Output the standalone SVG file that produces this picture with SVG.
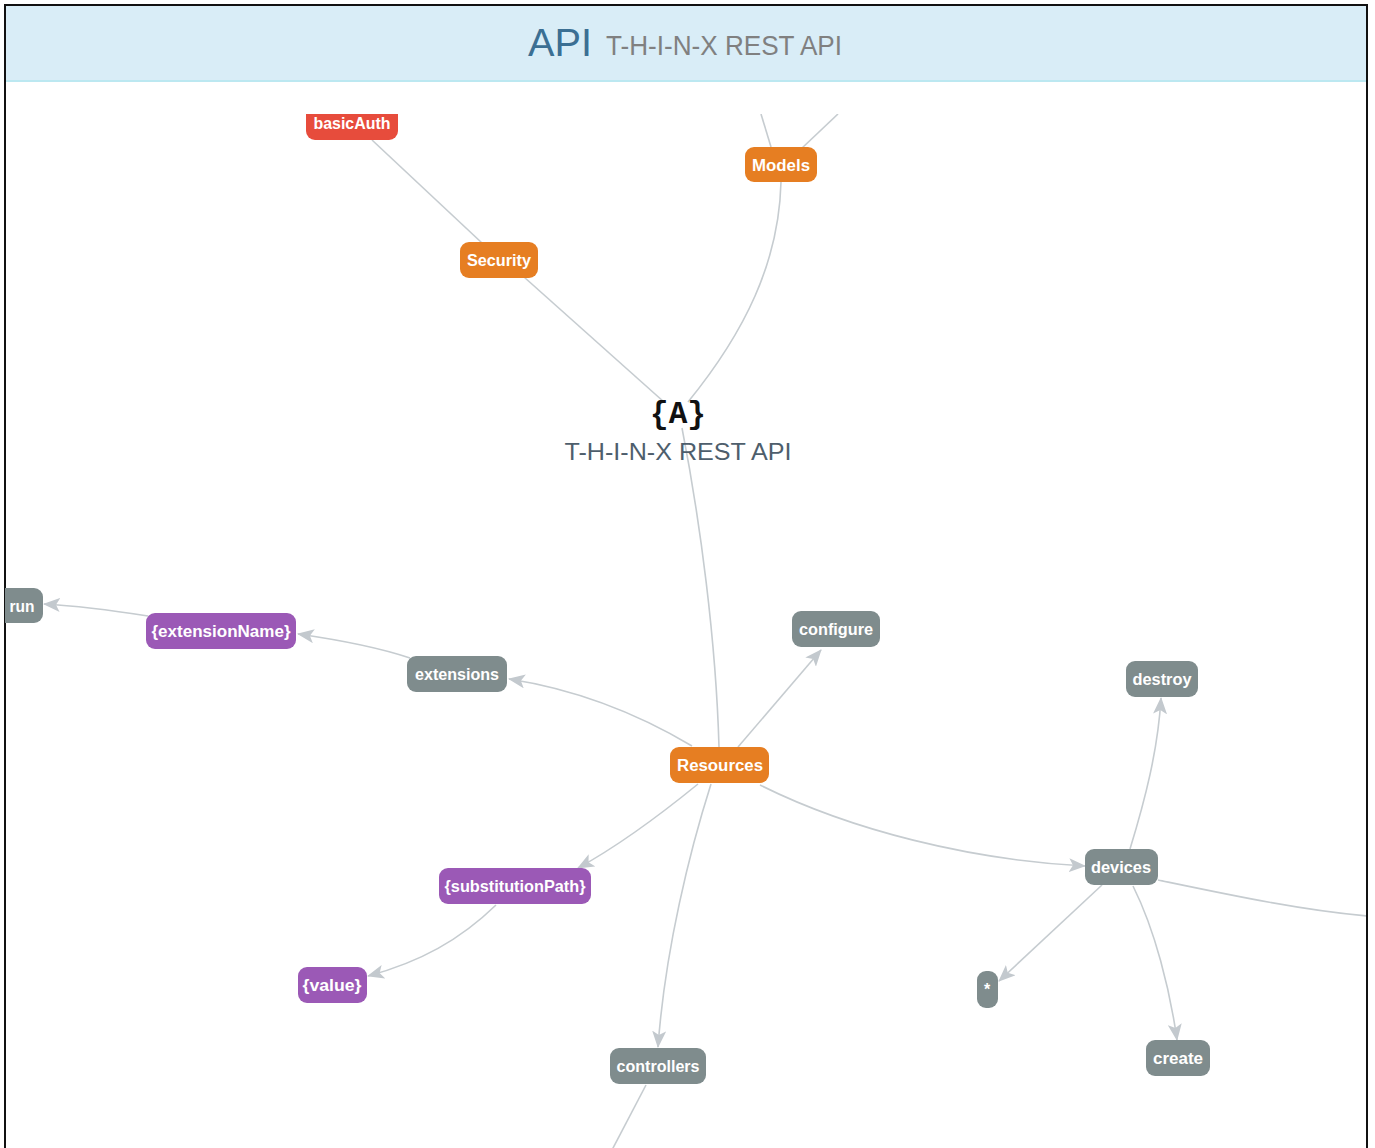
<svg xmlns="http://www.w3.org/2000/svg" width="1375" height="1148" viewBox="0 0 1375 1148">
<style>
.node text{font-family:"Liberation Sans",Arial,sans-serif;font-size:16px;font-weight:bold;fill:#fff;text-anchor:middle;dominant-baseline:central}
.edge{fill:none;stroke:#c6ccd0;stroke-width:1.6}
.o{fill:#e67e22}.r{fill:#e74c3c}.p{fill:#9b59b6}.g{fill:#7f8c8d}
</style>
<defs>
<marker id="arr" markerUnits="userSpaceOnUse" markerWidth="18" markerHeight="14" refX="16" refY="7" orient="auto">
<path d="M0,0 L17,7 L0,14 L4,7 z" fill="#c3c9ce"/>
</marker>
<clipPath id="view"><rect x="5" y="114" width="1361" height="1034"/></clipPath>
</defs>
<rect x="0" y="0" width="1375" height="1148" fill="#fff"/>
<rect x="5" y="5" width="1362" height="1150" fill="#fff" stroke="#111" stroke-width="2"/>
<rect x="6" y="6" width="1360" height="75" fill="#d9edf7"/>
<line x1="6" y1="81" x2="1366" y2="81" stroke="#bce8f1" stroke-width="2"/>
<g id="title">
<text x="528" y="56" font-family="Liberation Sans,Arial,sans-serif" font-size="38" fill="#3b6f93" textLength="64" lengthAdjust="spacingAndGlyphs">API</text>
<text x="606" y="55" font-family="Liberation Sans,Arial,sans-serif" font-size="28" fill="#808080" textLength="236" lengthAdjust="spacingAndGlyphs">T-H-I-N-X REST API</text>
</g>
<g clip-path="url(#view)">
<g id="connectors">
<path class="edge" d="M372,140 L482,243"/>
<path class="edge" d="M524,277 L664,402"/>
<path class="edge" d="M781,182 C779,262 745,332 688,402"/>
<path class="edge" d="M771,147 L761,114"/>
<path class="edge" d="M801,149 L838,114"/>
<path class="edge" d="M682,428 C700,520 716,640 719,747"/>
<path class="edge" d="M738,747 L821,650" marker-end="url(#arr)"/>
<path class="edge" d="M692,746 C640,715 580,690 509,679" marker-end="url(#arr)"/>
<path class="edge" d="M410,658 C380,648 340,640 298,634" marker-end="url(#arr)"/>
<path class="edge" d="M148,616 C110,610 80,606 44,604" marker-end="url(#arr)"/>
<path class="edge" d="M698,784 C660,815 620,845 578,868" marker-end="url(#arr)"/>
<path class="edge" d="M496,905 C460,940 420,962 368,976" marker-end="url(#arr)"/>
<path class="edge" d="M711,784 C690,850 665,950 658,1047" marker-end="url(#arr)"/>
<path class="edge" d="M646,1085 L612,1150"/>
<path class="edge" d="M760,785 C850,830 970,860 1085,866" marker-end="url(#arr)"/>
<path class="edge" d="M1130,849 C1145,800 1158,750 1161,698" marker-end="url(#arr)"/>
<path class="edge" d="M1102,885 L999,981" stroke-width="2.4" marker-end="url(#arr)"/>
<path class="edge" d="M1133,886 C1155,930 1170,990 1177,1040" marker-end="url(#arr)"/>
<path class="edge" d="M1158,880 C1230,895 1300,910 1367,916"/>
</g>
<g id="hub">
<text x="678" y="423" font-family="Liberation Mono,Courier New,monospace" font-size="31" font-weight="bold" fill="#111" text-anchor="middle">{A}</text>
<text x="678" y="460" font-family="Liberation Sans,Arial,sans-serif" font-size="24" fill="#4e5e6c" text-anchor="middle" textLength="227" lengthAdjust="spacingAndGlyphs">T-H-I-N-X REST API</text>
</g>
<g id="n-basicAuth" class="node"><rect class="r" x="306" y="106" width="92" height="34" rx="9"/><text x="352" y="123" textLength="77" lengthAdjust="spacingAndGlyphs">basicAuth</text></g>
<g id="n-models" class="node"><rect class="o" x="745" y="147" width="72" height="35" rx="9"/><text x="781" y="165" textLength="58" lengthAdjust="spacingAndGlyphs">Models</text></g>
<g id="n-security" class="node"><rect class="o" x="460" y="242" width="78" height="36" rx="9"/><text x="499" y="260" textLength="64" lengthAdjust="spacingAndGlyphs">Security</text></g>
<g id="n-run" class="node"><rect class="g" x="-10" y="588" width="53" height="35" rx="9"/><text x="22" y="606" textLength="25" lengthAdjust="spacingAndGlyphs">run</text></g>
<g id="n-extensionName" class="node"><rect class="p" x="146" y="613" width="150" height="36" rx="9"/><text x="221" y="631" textLength="139" lengthAdjust="spacingAndGlyphs">{extensionName}</text></g>
<g id="n-extensions" class="node"><rect class="g" x="407" y="656" width="100" height="36" rx="9"/><text x="457" y="674" textLength="84" lengthAdjust="spacingAndGlyphs">extensions</text></g>
<g id="n-configure" class="node"><rect class="g" x="792" y="611" width="88" height="36" rx="9"/><text x="836" y="629" textLength="74" lengthAdjust="spacingAndGlyphs">configure</text></g>
<g id="n-destroy" class="node"><rect class="g" x="1126" y="661" width="72" height="36" rx="9"/><text x="1162" y="679" textLength="59" lengthAdjust="spacingAndGlyphs">destroy</text></g>
<g id="n-resources" class="node"><rect class="o" x="670" y="747" width="99" height="36" rx="9"/><text x="720" y="765" textLength="86" lengthAdjust="spacingAndGlyphs">Resources</text></g>
<g id="n-devices" class="node"><rect class="g" x="1085" y="849" width="73" height="36" rx="9"/><text x="1121" y="867" textLength="60" lengthAdjust="spacingAndGlyphs">devices</text></g>
<g id="n-substitutionPath" class="node"><rect class="p" x="439" y="868" width="152" height="36" rx="9"/><text x="515" y="886" textLength="141" lengthAdjust="spacingAndGlyphs">{substitutionPath}</text></g>
<g id="n-value" class="node"><rect class="p" x="298" y="967" width="69" height="36" rx="9"/><text x="332" y="985" textLength="59" lengthAdjust="spacingAndGlyphs">{value}</text></g>
<g id="n-star" class="node"><rect class="g" x="977" y="971" width="21" height="37" rx="9"/><text x="987" y="989">*</text></g>
<g id="n-create" class="node"><rect class="g" x="1146" y="1040" width="64" height="36" rx="9"/><text x="1178" y="1058" textLength="50" lengthAdjust="spacingAndGlyphs">create</text></g>
<g id="n-controllers" class="node"><rect class="g" x="610" y="1048" width="96" height="36" rx="9"/><text x="658" y="1066" textLength="83" lengthAdjust="spacingAndGlyphs">controllers</text></g>
</g>
</svg>
